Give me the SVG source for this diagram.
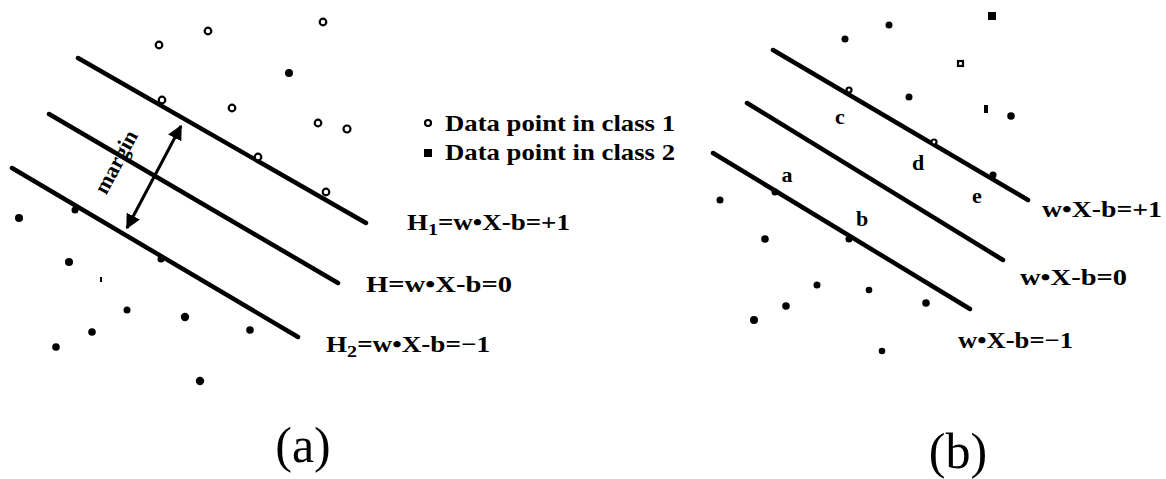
<svg xmlns="http://www.w3.org/2000/svg" width="1166" height="479" viewBox="0 0 1166 479">
<defs>
<style>
.ln{stroke:#000;stroke-width:4.5;stroke-linecap:round;fill:none}
.c1{fill:#fff;stroke:#000;stroke-width:2.2}
.c2{fill:#000}
.lbl{font-family:"Liberation Serif",serif;font-weight:bold;font-size:23px;fill:#000}
.let{font-family:"Liberation Serif",serif;font-weight:bold;font-size:22px;fill:#000}
.cap{font-family:"Liberation Serif","Times New Roman",serif;font-size:50px;fill:#000}
</style>
<marker id="ah" viewBox="0 0 10 10" refX="9" refY="5" markerWidth="5" markerHeight="5" orient="auto-start-reverse">
<path d="M0,0 L10,5 L0,10 z" fill="#000"/>
</marker>
</defs>
<rect width="1166" height="479" fill="#fff"/>

<g id="connectors">
<line class="ln" x1="78" y1="58" x2="366" y2="223"/>
<line class="ln" x1="49" y1="114" x2="338" y2="283"/>
<line class="ln" x1="12" y1="168" x2="298" y2="337"/>
<line x1="127" y1="228" x2="181" y2="126" stroke="#000" stroke-width="3" marker-start="url(#ah)" marker-end="url(#ah)"/>
<line class="ln" x1="773" y1="50" x2="1028" y2="200"/>
<line class="ln" x1="747" y1="103" x2="1003" y2="260"/>
<line class="ln" x1="713" y1="153" x2="970" y2="309"/>
</g>

<g id="margin-label">
<text class="let" font-size="14" x="118" y="168" text-anchor="middle" transform="rotate(-62 118 163)">margin</text>
</g>

<g id="class1-points-a">
<circle class="c1" cx="159" cy="45" r="3.3"/>
<circle class="c1" cx="208" cy="31" r="3.3"/>
<circle class="c1" cx="323" cy="22" r="3.3"/>
<circle class="c1" cx="162" cy="100" r="3.3"/>
<circle class="c1" cx="232" cy="108" r="3.3"/>
<circle class="c1" cx="318" cy="123" r="3.3"/>
<circle class="c1" cx="347" cy="129" r="3.5"/>
<circle class="c1" cx="258" cy="157" r="3.3"/>
<circle class="c1" cx="326" cy="192" r="3.3"/>
</g>

<g id="class2-points-a">
<circle class="c2" cx="289" cy="73" r="4"/>
<circle class="c2" cx="19" cy="218" r="4"/>
<circle class="c2" cx="75" cy="210" r="3.5"/>
<circle class="c2" cx="69" cy="262" r="4"/>
<rect class="c2" x="100" y="277" width="2" height="5"/>
<circle class="c2" cx="161" cy="259" r="3.5"/>
<circle class="c2" cx="127" cy="310" r="3.5"/>
<circle class="c2" cx="185" cy="317" r="4.2"/>
<circle class="c2" cx="92" cy="332" r="3.8"/>
<circle class="c2" cx="56" cy="347" r="3.8"/>
<circle class="c2" cx="250" cy="330" r="3.8"/>
<circle class="c2" cx="200" cy="381" r="4.2"/>
</g>

<g id="legend">
<circle class="c1" cx="428" cy="123" r="3"/>
<text class="lbl" x="445" y="131" textLength="230" lengthAdjust="spacingAndGlyphs">Data point in class 1</text>
<rect class="c2" x="424" y="149" width="8" height="8"/>
<text class="lbl" x="445" y="160" textLength="230" lengthAdjust="spacingAndGlyphs">Data point in class 2</text>
</g>

<g id="labels-a">
<text class="lbl" x="407" y="230" textLength="163" lengthAdjust="spacingAndGlyphs">H<tspan font-size="17" dy="5">1</tspan><tspan dy="-5">=w•X-b=+1</tspan></text>
<text class="lbl" x="366" y="292" textLength="146" lengthAdjust="spacingAndGlyphs">H=w•X-b=0</text>
<text class="lbl" x="326" y="352" textLength="164" lengthAdjust="spacingAndGlyphs">H<tspan font-size="17" dy="5">2</tspan><tspan dy="-5">=w•X-b=−1</tspan></text>
</g>

<g id="points-b">
<circle class="c2" cx="845" cy="39" r="3.5"/>
<circle class="c2" cx="889" cy="25" r="3.5"/>
<rect class="c2" x="988" y="12" width="8" height="8"/>
<rect class="c1" x="958" y="61" width="5" height="5"/>
<circle class="c2" cx="909" cy="97" r="3.5"/>
<rect class="c2" x="984" y="105" width="4" height="8"/>
<circle class="c2" cx="1011" cy="116" r="3.8"/>
<circle class="c1" cx="849" cy="90" r="2.5"/>
<circle class="c1" cx="934" cy="142" r="2.5"/>
<circle class="c2" cx="993" cy="175" r="3.5"/>
<circle class="c2" cx="720" cy="200" r="3.5"/>
<circle class="c2" cx="775" cy="192" r="3.5"/>
<circle class="c2" cx="849" cy="239" r="3.5"/>
<circle class="c2" cx="765" cy="239" r="3.8"/>
<circle class="c2" cx="817" cy="285" r="3.5"/>
<circle class="c2" cx="869" cy="290" r="3.3"/>
<circle class="c2" cx="786" cy="306" r="3.8"/>
<circle class="c2" cx="754" cy="320" r="4"/>
<circle class="c2" cx="926" cy="303" r="3.8"/>
<circle class="c2" cx="882" cy="351" r="3.3"/>
</g>

<g id="letters-b">
<text class="let" x="787" y="182" text-anchor="middle">a</text>
<text class="let" x="862" y="226" text-anchor="middle">b</text>
<text class="let" x="840" y="124" text-anchor="middle">c</text>
<text class="let" x="918" y="170" text-anchor="middle">d</text>
<text class="let" x="977" y="203" text-anchor="middle">e</text>
</g>

<g id="labels-b">
<text class="lbl" x="1042" y="217" textLength="120" lengthAdjust="spacingAndGlyphs">w•X-b=+1</text>
<text class="lbl" x="1020" y="285" textLength="107" lengthAdjust="spacingAndGlyphs">w•X-b=0</text>
<text class="lbl" x="958" y="348" textLength="115" lengthAdjust="spacingAndGlyphs">w•X-b=−1</text>
</g>

<g id="captions">
<text class="cap" x="303" y="462" text-anchor="middle">(a)</text>
<text class="cap" x="958" y="468" text-anchor="middle">(b)</text>
</g>
</svg>
